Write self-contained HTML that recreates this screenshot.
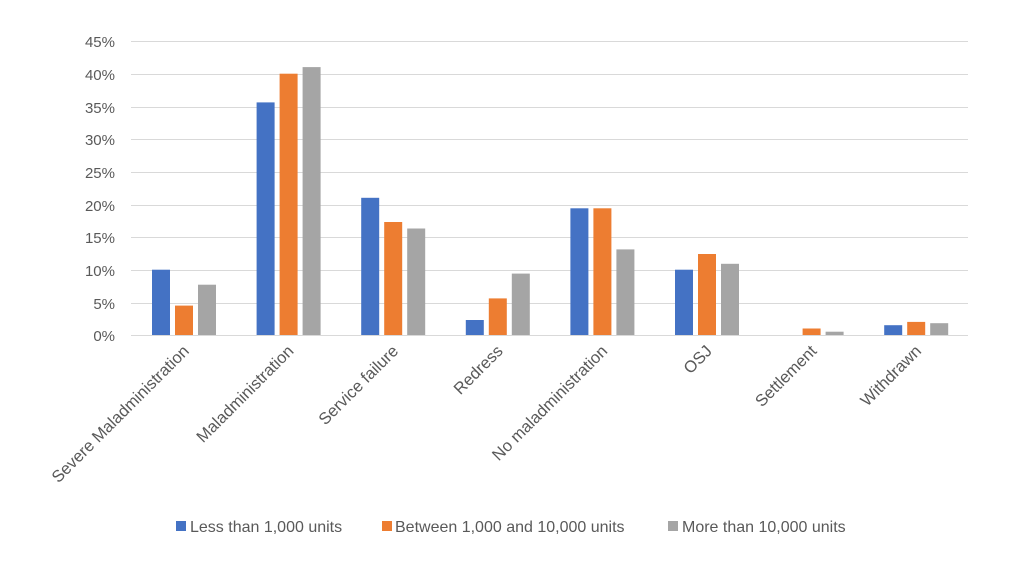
<!DOCTYPE html><html><head><style>body{margin:0;background:#fff}svg{display:block;font-family:"Liberation Sans",sans-serif}</style></head><body>
<svg width="1024" height="576" xmlns="http://www.w3.org/2000/svg">
<g stroke="#d9d9d9" stroke-width="1">
<line x1="131" x2="968" y1="41.5" y2="41.5"/><line x1="131" x2="968" y1="74.5" y2="74.5"/><line x1="131" x2="968" y1="107.5" y2="107.5"/><line x1="131" x2="968" y1="139.5" y2="139.5"/><line x1="131" x2="968" y1="172.5" y2="172.5"/><line x1="131" x2="968" y1="205.5" y2="205.5"/><line x1="131" x2="968" y1="237.5" y2="237.5"/><line x1="131" x2="968" y1="270.5" y2="270.5"/><line x1="131" x2="968" y1="303.5" y2="303.5"/><line x1="131" x2="968" y1="335.5" y2="335.5"/>
</g>
<g fill="#595959" font-size="15" text-anchor="end">
<text x="115" y="47">45%</text><text x="115" y="80">40%</text><text x="115" y="113">35%</text><text x="115" y="145">30%</text><text x="115" y="178">25%</text><text x="115" y="211">20%</text><text x="115" y="243">15%</text><text x="115" y="276">10%</text><text x="115" y="309">5%</text><text x="115" y="341">0%</text>
</g>
<g fill="#4472c4">
<rect x="152" y="269.7" width="18" height="65.3"/><rect x="256.6" y="102.4" width="18" height="232.6"/><rect x="361.2" y="197.8" width="18" height="137.2"/><rect x="465.8" y="320" width="18" height="15"/><rect x="570.4" y="208.3" width="18" height="126.7"/><rect x="675" y="269.7" width="18" height="65.3"/><rect x="884.2" y="325.2" width="18" height="9.8"/>
</g>
<g fill="#ed7d31">
<rect x="175" y="305.6" width="18" height="29.4"/><rect x="279.6" y="73.7" width="18" height="261.3"/><rect x="384.2" y="222" width="18" height="113"/><rect x="488.8" y="298.4" width="18" height="36.6"/><rect x="593.4" y="208.3" width="18" height="126.7"/><rect x="698" y="254" width="18" height="81"/><rect x="802.6" y="328.5" width="18" height="6.5"/><rect x="907.2" y="321.9" width="18" height="13.1"/>
</g>
<g fill="#a5a5a5">
<rect x="198" y="284.7" width="18" height="50.3"/><rect x="302.6" y="67.1" width="18" height="267.9"/><rect x="407.2" y="228.5" width="18" height="106.5"/><rect x="511.8" y="273.6" width="18" height="61.4"/><rect x="616.4" y="249.4" width="18" height="85.6"/><rect x="721" y="263.8" width="18" height="71.2"/><rect x="825.6" y="331.7" width="18" height="3.3"/><rect x="930.2" y="323.2" width="18" height="11.8"/>
</g>
<g fill="#595959" font-size="16.5" text-anchor="end">
<text transform="translate(190,352) rotate(-45)">Severe Maladministration</text>
<text transform="translate(294.6,352) rotate(-45)">Maladministration</text>
<text transform="translate(399.2,352) rotate(-45)">Service failure</text>
<text transform="translate(503.8,352) rotate(-45)">Redress</text>
<text transform="translate(608.4,352) rotate(-45)">No maladministration</text>
<text transform="translate(713,352) rotate(-45)">OSJ</text>
<text transform="translate(817.6,352) rotate(-45)">Settlement</text>
<text transform="translate(922.2,352) rotate(-45)">Withdrawn</text>
</g>
<g font-size="16" fill="#595959">
<rect x="176" y="521" width="10" height="10" fill="#4472c4"/><text x="190" y="532">Less than 1,000 units</text>
<rect x="382" y="521" width="10" height="10" fill="#ed7d31"/><text x="395" y="532">Between 1,000 and 10,000 units</text>
<rect x="668" y="521" width="10" height="10" fill="#a5a5a5"/><text x="682" y="532">More than 10,000 units</text>
</g>
</svg></body></html>
